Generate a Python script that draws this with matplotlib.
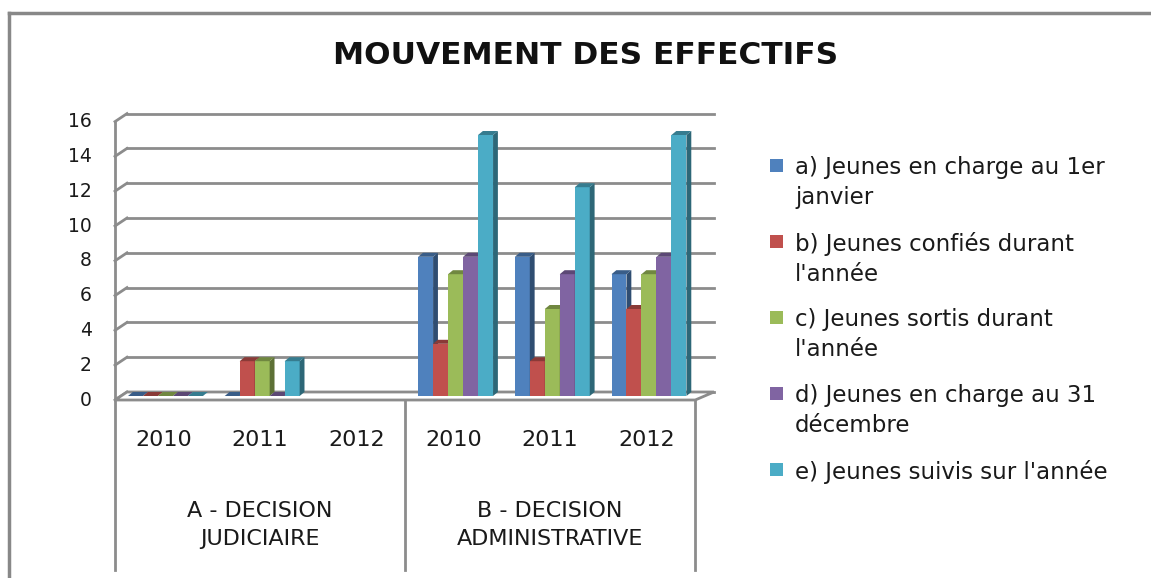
import numpy as np
import matplotlib
matplotlib.use("Agg")
import matplotlib.pyplot as plt
from matplotlib.patches import Polygon, Rectangle
from matplotlib.lines import Line2D

# ====== Données ======
years = ["2010", "2011", "2012", "2010", "2011", "2012"]
groups = ["A - DECISION\nJUDICIAIRE", "B - DECISION\nADMINISTRATIVE"]
series_labels = [
    "a) Jeunes en charge au 1er\njanvier",
    "b) Jeunes confiés durant\nl'année",
    "c) Jeunes sortis durant\nl'année",
    "d) Jeunes en charge au 31\ndécembre",
    "e) Jeunes suivis sur l'année",
]
nan = np.nan
val_a = [0, 0, nan, 8, 8, 7]
val_b = [0, 2, nan, 3, 2, 5]
val_c = [0, 2, nan, 7, 5, 7]
val_d = [0, 0, nan, 8, 7, 8]
val_e = [0, 2, nan, 15, 12, 15]
yticks = [0, 2, 4, 6, 8, 10, 12, 14, 16]
colors = ["#4F81BD", "#C0504D", "#9BBB59", "#8064A2", "#4BACC6"]

plt.rcParams["font.family"] = ["DejaVu Sans"]
TXT = "#1a1a1a"

W, H = 1151, 578
fig = plt.figure(figsize=(W / 100, H / 100), dpi=100)
ax = fig.add_axes([0, 0, 1, 1])
ax.set_axis_off()

# échelle : catégorie = 96.7 px, unité = 17.4 px, zéro des barres à y=396 px
px_cat, px_unit, x0px, y0px = 96.7, 17.4, 121, 396
ax.set_xlim(-0.5 - x0px / px_cat, -0.5 + (W - x0px) / px_cat)
ax.set_ylim(-(H - y0px) / px_unit, y0px / px_unit)

DX, DY = 0.062, 0.23      # décalage profondeur (avant / arrière)
grid_col = "#8c8c8c"
n_cat = len(years)
xl_f, xr_f = -0.5 - DX, n_cat - 0.5 - DX
xl_b, xr_b = -0.5 + DX, n_cat - 0.5 + DX + 0.07

# mur arrière + mur gauche
for v in yticks:
    ax.plot([xl_b, xr_b], [v + DY, v + DY], color=grid_col, lw=2, zorder=1)
    ax.plot([xl_f, xl_b], [v - DY, v + DY], color=grid_col, lw=2, zorder=1)
    ax.text(xl_f - 0.24, v - DY, str(v), ha="right", va="center", fontsize=13.5, color=TXT)
# sol
floor = Polygon([(xl_f, -DY), (xr_f, -DY), (xr_b, DY), (xl_b, DY)], closed=True,
                facecolor="white", edgecolor=grid_col, lw=2, zorder=1)
ax.add_patch(floor)
bottom = -(570 - y0px) / px_unit
ax.plot([xl_f, xl_f], [yticks[-1] - DY, bottom], color=grid_col, lw=2, zorder=1)
for xd in [xl_f + 3, xr_f]:
    ax.plot([xd, xd], [-DY, bottom], color=grid_col, lw=2, zorder=1)

# barres 3D
values = [val_a, val_b, val_c, val_d, val_e]
bw, bdx, bdy = 0.155, 0.05, 0.23
x = np.arange(n_cat) - 0.04
z = 3
for s, (vals, col) in enumerate(zip(values, colors)):
    rgb = np.array(matplotlib.colors.to_rgb(col))
    side, top = rgb * 0.6, rgb * 0.72
    xs = x + (s - 2) * bw
    ax.bar(xs, vals, width=bw, color=col, zorder=z)
    for xc, v in zip(xs, vals):
        if np.isnan(v):
            continue
        l, r = xc - bw / 2, xc + bw / 2
        ax.add_patch(Polygon([(r, 0), (r + bdx, bdy), (r + bdx, v + bdy), (r, v)],
                             closed=True, facecolor=side, edgecolor="none", zorder=z))
        ax.add_patch(Polygon([(l, v), (l + bdx, v + bdy), (r + bdx, v + bdy), (r, v)],
                             closed=True, facecolor=top, edgecolor="none", zorder=z + 0.5))
    z += 1

# étiquettes d'axe
for i, yr in enumerate(years):
    ax.text(i - DX, -(440 - y0px) / px_unit, yr, ha="center", va="center", fontsize=16, color=TXT)
for g, lab in enumerate(groups):
    ax.text(1 + 3 * g - DX, -(525 - y0px) / px_unit, lab, ha="center", va="center",
            fontsize=16, color=TXT, linespacing=1.45)

# titre
fig.text(586 / W, 1 - 55 / H, "MOUVEMENT DES EFFECTIFS", ha="center", va="center",
         fontsize=22.5, fontweight="bold", color="#111111")

# légende
for k, (lab, col) in enumerate(zip(series_labels, colors)):
    yc = 166 + 76 * k
    fig.patches.append(Rectangle((770 / W, 1 - (yc + 6) / H), 13 / W, 13 / H,
                                 transform=fig.transFigure, facecolor=col, edgecolor="none"))
    fig.text(795 / W, 1 - (yc - 10) / H, lab, ha="left", va="top", fontsize=16.5,
             color=TXT, linespacing=1.38)

# cadre
fig.add_artist(Line2D([9 / W, 9 / W], [0, 1 - 13 / H], color="#888888", lw=2.5, transform=fig.transFigure))
fig.add_artist(Line2D([9 / W, 1], [1 - 13 / H, 1 - 13 / H], color="#888888", lw=2.5, transform=fig.transFigure))

fig.savefig("out.png", dpi=100)
